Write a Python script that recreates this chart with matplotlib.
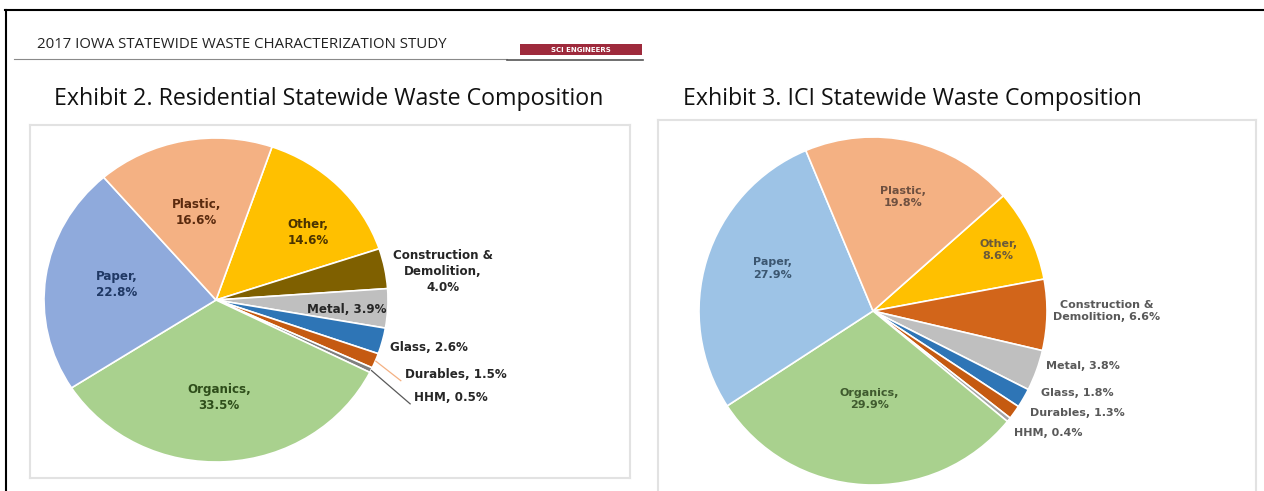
import numpy as np
import matplotlib
matplotlib.use("Agg")
import matplotlib.pyplot as plt
from matplotlib.patches import Rectangle
from matplotlib.lines import Line2D

# ---- data ----
categories = ["Other", "Construction &\nDemolition", "Metal", "Glass", "Durables",
              "HHM", "Organics", "Paper", "Plastic"]
residential_pct = [14.6, 4.0, 3.9, 2.6, 1.5, 0.5, 33.5, 22.8, 16.6]
ici_pct = [8.6, 6.6, 3.8, 1.8, 1.3, 0.4, 29.9, 27.9, 19.8]

header_text = "2017 IOWA STATEWIDE WASTE CHARACTERIZATION STUDY"
logo_text = "SCI ENGINEERS"
residential_title = "Exhibit 2. Residential Statewide Waste Composition"
ici_title = "Exhibit 3. ICI Statewide Waste Composition"

# ---- styles ----
res_colors = ["#FFC000", "#7F6000", "#BFBFBF", "#2E75B6", "#C55A11",
              "#7F7F7F", "#A9D18E", "#8FAADC", "#F4B183"]
ici_colors = ["#FFC000", "#D2651A", "#BFBFBF", "#2E75B6", "#C55A11",
              "#A5A5A5", "#A9D18E", "#9DC3E6", "#F4B183"]

res_text_colors = ["#4A3300", "#262626", "#262626", "#262626", "#262626",
                   "#262626", "#2E4D1A", "#1F3864", "#5A2A0E"]
ici_text_colors = ["#6B5A3A", "#595959", "#595959", "#595959", "#595959",
                   "#595959", "#3F5A2E", "#3B5670", "#6E5040"]

# label placement: radius (pie units) and angular nudge from wedge middle
res_label_r = [0.68, 1.33, 0.76, 1.27, 1.19, 1.30, 0.60, 0.583, 0.555]
res_label_dang = [-6.7, -3.7, -1.6, 1.4, -0.7, -2.0, -1.5, -1.0, 1.0]
res_label_ha = ["center", "center", "center", "center", "left", "left",
                "center", "center", "center"]
res_sep = [",\n", ",\n", ", ", ", ", ", ", ", ", ",\n", ",\n", ",\n"]
res_leaders = {4: "#F4B183", 5: "#595959"}

ici_label_r = [0.80, 1.345, 1.25, 1.263, 1.31, 1.226, 0.506, 0.63, 0.677]
ici_label_dang = [0.0, 1.35, 5.3, 8.2, 9.1, 3.9, 0.7, -5.8, -1.7]
ici_label_ha = ["center"] * 9
ici_sep = [",\n", ", ", ", ", ", ", ", ", ", ", ",\n", ",\n", ",\n"]
ici_leaders = {}

W, H = 1264, 491


def fx(x):
    return x / W


def fy(y):
    return 1 - y / H


fig = plt.figure(figsize=(W / 100, H / 100), dpi=100)
fig.patch.set_facecolor("white")

# page frame
fig.add_artist(Line2D([fx(6), fx(6)], [fy(10), fy(H + 2)], color="black", lw=1.5))
fig.add_artist(Line2D([fx(5), 1.0], [fy(10), fy(10)], color="black", lw=1.5))

# running header
fig.text(fx(37), fy(44), header_text, fontsize=10.8, family="Open Sans",
         color="#222222", va="center", ha="left")
fig.add_artist(Line2D([fx(14), fx(507)], [fy(59), fy(59)], color="#8a8a8a", lw=0.8))
fig.add_artist(Line2D([fx(507), fx(643)], [fy(60), fy(60)], color="#555555", lw=1.2))
fig.add_artist(Rectangle((fx(520), fy(55)), 122 / W, 11 / H, facecolor="#9E2A3C",
                         edgecolor="none", transform=fig.transFigure))
fig.text(fx(581), fy(49.5), logo_text, fontsize=5, color="white", weight="bold",
         ha="center", va="center", family="DejaVu Sans")

# exhibit titles
fig.text(fx(329), fy(99), residential_title, fontsize=16.7, family="Open Sans",
         ha="center", va="center", color="#111111")
fig.text(fx(912), fy(99), ici_title, fontsize=16.7, family="Open Sans",
         ha="center", va="center", color="#111111")


def draw_panel(box, center, rx, ry, values, colors, start, text_colors,
               label_r, label_dang, label_ha, seps, leaders, fsize, hide_bottom=False):
    x0, y0, x1, y1 = box
    ax = fig.add_axes([fx(x0), fy(y1), (x1 - x0) / W, (y1 - y0) / H])
    wedges, _ = ax.pie(values, colors=colors, startangle=start, counterclock=False,
                       wedgeprops=dict(edgecolor="white", linewidth=1.2))
    ax.set_aspect("auto")
    cx, cy = center
    ax.set_xlim((x0 - cx) / rx, (x1 - cx) / rx)
    ax.set_ylim((cy - y1) / ry, (cy - y0) / ry)
    ax.set_frame_on(True)
    for name, sp in ax.spines.items():
        sp.set_color("#E2E2E2")
        sp.set_linewidth(1.5)
    if hide_bottom:
        ax.spines["bottom"].set_visible(False)
    ax.set_xticks([])
    ax.set_yticks([])

    for i, w in enumerate(wedges):
        mid = 0.5 * (w.theta1 + w.theta2)
        ang = np.deg2rad(mid + label_dang[i])
        tx, ty = label_r[i] * np.cos(ang), label_r[i] * np.sin(ang)
        label = f"{categories[i]}{seps[i]}{values[i]:.1f}%"
        ax.text(tx, ty, label, ha=label_ha[i], va="center", multialignment="center",
                fontsize=fsize, weight="bold", color=text_colors[i],
                family="DejaVu Sans", linespacing=1.3)
        if i in leaders:
            m = np.deg2rad(mid)
            ax.plot([np.cos(m), tx - 0.02], [np.sin(m), ty - 0.04],
                    color=leaders[i], lw=0.9, solid_capstyle="butt")
    return ax


draw_panel((30, 125, 630, 478), (216, 300), 172, 162, residential_pct, res_colors, 71,
           res_text_colors, res_label_r, res_label_dang, res_label_ha, res_sep,
           res_leaders, 8.6)
draw_panel((658, 120, 1256, 493), (873, 311), 174, 174, ici_pct, ici_colors, 41.5,
           ici_text_colors, ici_label_r, ici_label_dang, ici_label_ha, ici_sep,
           ici_leaders, 8, hide_bottom=True)

fig.savefig("out.png", dpi=100, facecolor="white")
